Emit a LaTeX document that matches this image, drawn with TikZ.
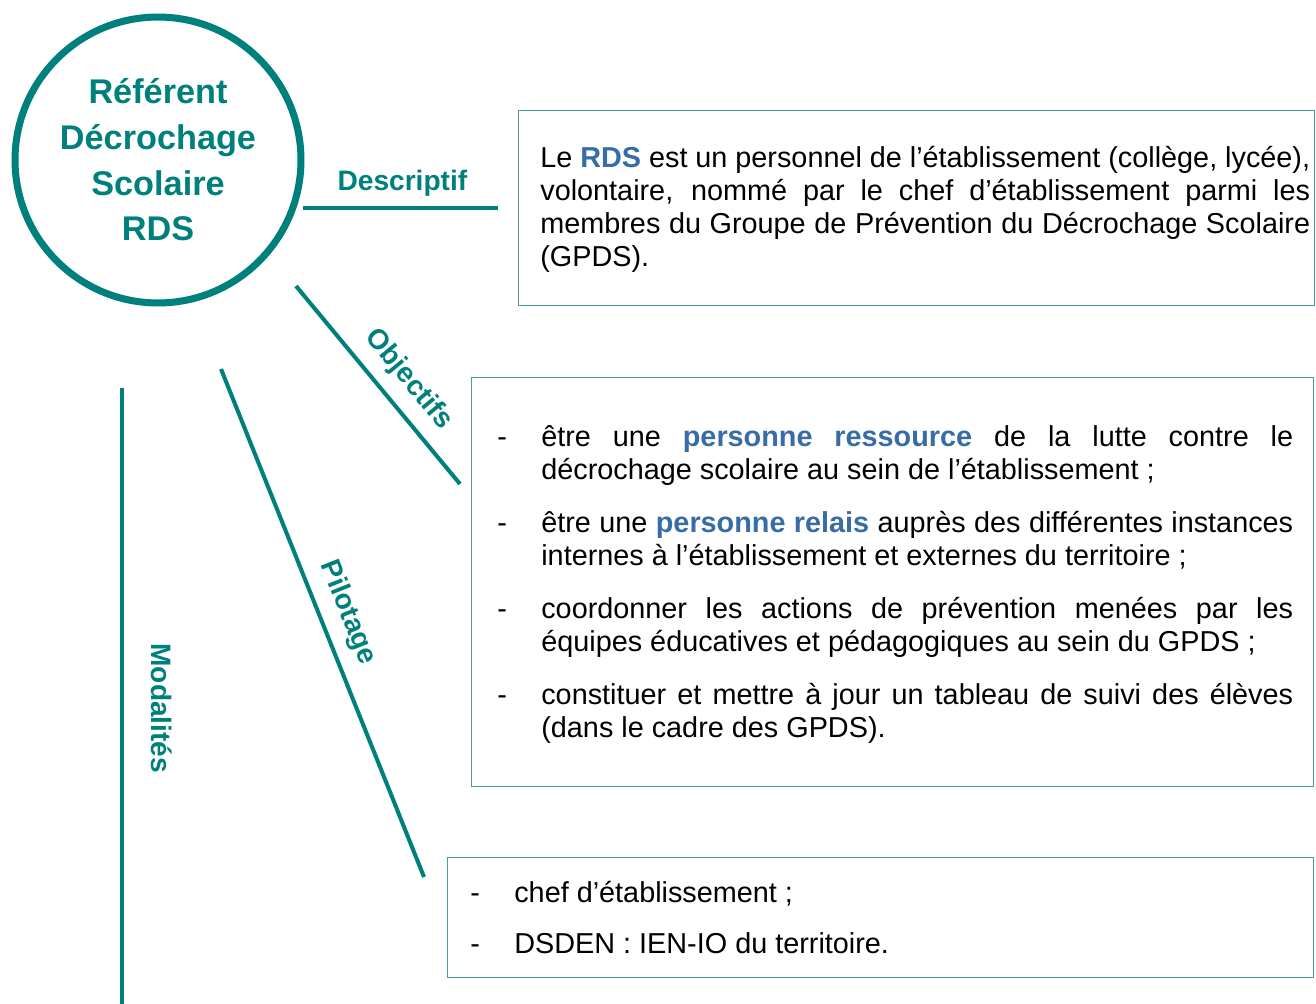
\documentclass[tikz,border=0pt]{standalone}
\usepackage{fontspec}
\setmainfont{Liberation Sans}
\hyphenpenalty=10000
\exhyphenpenalty=10000

\definecolor{sarcelle}{RGB}{0,128,124}
\definecolor{bleurds}{RGB}{56,108,166}
\definecolor{bordure}{RGB}{70,160,155}

\newcommand{\puce}[1]{\hangindent=0.88cm\hangafter=1\noindent\makebox[0.88cm][l]{-}#1\par}

\tikzset{
  cercle/.style={circle, draw=sarcelle, line width=4pt, minimum size=5.72cm, inner sep=0pt,
    text=sarcelle, font=\fontsize{19.5}{26}\selectfont\bfseries, align=center},
  branche/.style={draw=sarcelle, line width=2.3pt},
  etiquette/.style={text=sarcelle, font=\fontsize{16}{19}\selectfont\bfseries, inner sep=0pt,
    sloped, allow upside down},
  cadre/.style={draw=bordure, line width=0.8pt, inner sep=0pt, anchor=north west},
  texte/.style={font=\fontsize{16.4}{18.8}\selectfont, align=justify, inner sep=0pt, anchor=base west},
}

\begin{document}
\begin{tikzpicture}[x=0.02cm, y=-0.02cm]
  \useasboundingbox (0,0) rectangle (1316,1004);
  % cercle central
  \node[cercle] (rds) at (158,160) {Référent\\Décrochage\\Scolaire\\RDS};
  % extremites des branches
  \coordinate (descA) at (303,208);
  \coordinate (descB) at (498,208);
  \coordinate (objA) at (296,286);
  \coordinate (objB) at (460,484);
  \coordinate (pilA) at (221,369);
  \coordinate (pilB) at (424,877);
  \coordinate (modA) at (122,388);
  \coordinate (modB) at (122,1004);
  \draw[branche] (descA) -- node[etiquette, above=0.2cm, pos=0.51] (lblDesc) {Descriptif} (descB);
  \draw[branche] (objA) -- node[etiquette, above=0.24cm, pos=0.56] (lblObj) {Objectifs} (objB);
  \draw[branche] (pilA) -- node[etiquette, above=0.24cm, pos=0.5] (lblPil) {Pilotage} (pilB);
  \draw[branche] (modA) -- node[etiquette, above=0.54cm, pos=0.52] (lblMod) {Modalités} (modB);
  % cadres
  \node[cadre, minimum width=15.92cm, minimum height=3.9cm] (cadreDesc) at (518,110) {};
  \node[cadre, minimum width=16.84cm, minimum height=8.18cm] (cadreObj) at (471,377) {};
  \node[cadre, minimum width=17.32cm, minimum height=2.4cm] (cadrePil) at (447,857) {};
  % textes
  \node[texte, text width=15.4cm] (txtDesc) at (540,167) {Le \textcolor{bleurds}{\textbf{RDS}} est un personnel de l’établissement (collège, lycée),\linebreak
    volontaire, nommé par le chef d’établissement parmi les\linebreak
    membres du Groupe de Prévention du Décrochage Scolaire\linebreak
    (GPDS).};
  \node[texte, text width=15.92cm] (txtObj) at (497,446) {\setlength{\parskip}{0.4cm}%
    \puce{être une \textcolor{bleurds}{\textbf{personne ressource}} de la lutte contre le\linebreak décrochage scolaire au sein de l’établissement ;}
    \puce{être une \textcolor{bleurds}{\textbf{personne relais}} auprès des différentes instances\linebreak internes à l’établissement et externes du territoire ;}
    \puce{coordonner les actions de prévention menées par les\linebreak équipes éducatives et pédagogiques au sein du GPDS ;}
    \puce{constituer et mettre à jour un tableau de suivi des élèves\linebreak (dans le cadre des GPDS).}};
  \node[texte, text width=16cm] (txtPil) at (470,902) {\setlength{\parskip}{0.36cm}%
    \puce{chef d’établissement ;}
    \puce{DSDEN : IEN-IO du territoire.}};
\end{tikzpicture}
\end{document}
